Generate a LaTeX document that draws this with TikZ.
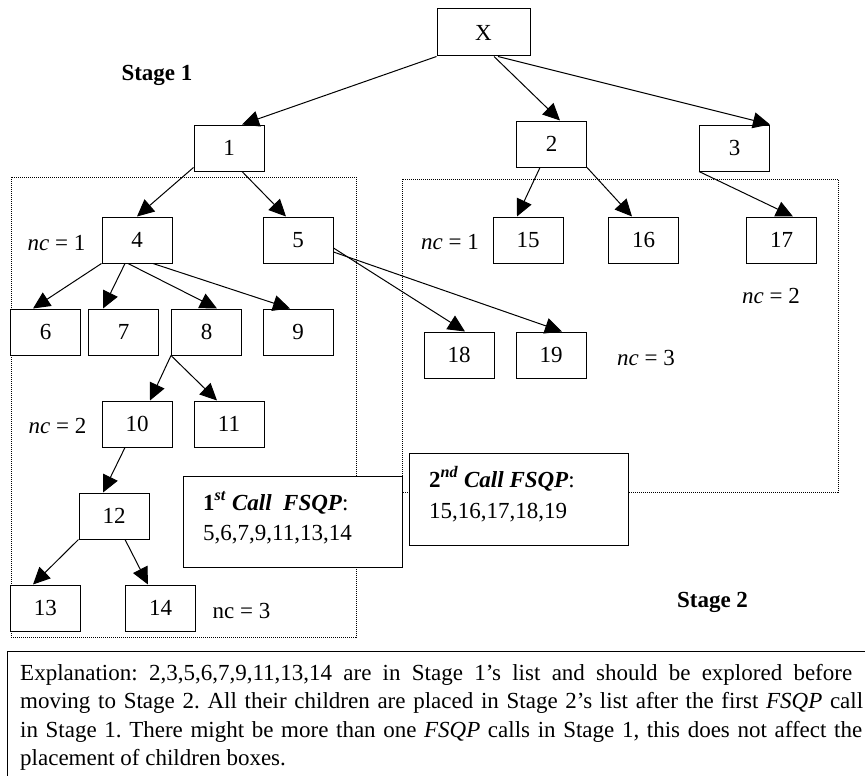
\documentclass[tikz,border=0pt]{standalone}
\usepackage{fontspec}
\setmainfont{Liberation Serif}
\usetikzlibrary{arrows.meta}
\frenchspacing
\begin{document}
\begin{tikzpicture}[x=1pt,y=-1pt,
  every node/.style={font=\fontsize{23pt}{28.3pt}\selectfont},
  nbox/.style={draw, line width=1pt, fill=white, minimum width=70pt, minimum height=46pt, inner sep=0pt},
  conn/.style={line width=1pt, -{Triangle[length=17pt,width=16pt]}},
  dotbox/.style={line width=1pt, dash pattern=on 1pt off 1pt},
  callbox/.style={draw, line width=1pt, fill=white, inner sep=0pt},
  lbl/.style={inner sep=0pt}]
\useasboundingbox (0,0) rectangle (865,776);
\fill[white] (0,0) rectangle (865,776);

% stage regions
\draw[dotbox] (11,177) rectangle (356,637);
\draw[dotbox] (402,179) rectangle (838,492);

% nodes
\node[nbox, minimum width=93pt, minimum height=47pt] (X) at (483.5,32.5) {X};
\node[nbox] (n1) at (229,148) {1};
\node[nbox] (n2) at (551.5,144) {2};
\node[nbox] (n3) at (734.5,148) {3};
\node[nbox] (n4) at (137,240) {4};
\node[nbox] (n5) at (298,240) {5};
\node[nbox] (n15) at (528,240) {15};
\node[nbox] (n16) at (643.5,240) {16};
\node[nbox] (n17) at (781.5,240) {17};
\node[nbox] (n6) at (45.5,332) {6};
\node[nbox] (n7) at (123.5,332) {7};
\node[nbox] (n8) at (206.5,332) {8};
\node[nbox] (n9) at (298,332) {9};
\node[nbox] (n18) at (459,355) {18};
\node[nbox] (n19) at (551,355) {19};
\node[nbox] (n10) at (137,424) {10};
\node[nbox] (n11) at (229,424) {11};
\node[nbox] (n12) at (114,516) {12};
\node[nbox] (n13) at (45.5,608) {13};
\node[nbox] (n14) at (160.5,608) {14};

% connectors
\draw[conn] (X.south west) -- ([xshift=13pt]n1.north);
\draw[conn] ([xshift=10.5pt]X.south) -- ([xshift=8.5pt]n2.north);
\draw[conn] ([xshift=14.5pt]X.south) -- (n3.north east);
\draw[conn] ([yshift=4pt]n1.south west) -- (n4.north);
\draw[conn] ([xshift=13pt]n1.south) -- ([xshift=-12pt]n5.north);
\draw[conn] (n4.south west) -- ([xshift=-12.5pt]n6.north);
\draw[conn] ([xshift=-12pt]n4.south) -- ([xshift=-20.5pt]n7.north);
\draw[conn] ([xshift=-9pt]n4.south) -- ([xshift=10.5pt]n8.north);
\draw[conn] ([xshift=16pt]n4.south) -- ([xshift=-8pt]n9.north);
\draw[conn] ([yshift=-8pt]n5.east) -- ([xshift=6pt]n18.north);
\draw[conn] ([yshift=-12pt]n5.east) -- ([xshift=11pt]n19.north);
\draw[conn] (n8.south west) -- ([xshift=13pt]n10.north);
\draw[conn] (n8.south west) -- ([xshift=-12pt]n11.north);
\draw[conn] ([xshift=-12pt]n10.south) -- ([xshift=-11pt]n12.north);
\draw[conn] (n12.south west) -- ([xshift=-12.5pt]n13.north);
\draw[conn] ([xshift=11pt]n12.south) -- ([xshift=-12.5pt]n14.north);
\draw[conn] ([xshift=-11.5pt]n2.south) -- ([xshift=-11pt]n15.north);
\draw[conn] (n2.south east) -- ([xshift=-11.5pt]n16.north);
\draw[conn] (n3.south west) -- ([xshift=11.5pt]n17.north);

% labels
\node[lbl, anchor=base] (s1) at (157,80.5) {\textbf{Stage 1}};
\node[lbl, anchor=base] (s2) at (712.5,607.5) {\textbf{Stage 2}};
\node[lbl, anchor=base] (nca) at (56.5,250) {\textit{nc} = 1};
\node[lbl, anchor=base] (ncb) at (450,249) {\textit{nc} = 1};
\node[lbl, anchor=base] (ncc) at (771,303) {\textit{nc} = 2};
\node[lbl, anchor=base] (ncd) at (646,365) {\textit{nc} = 3};
\node[lbl, anchor=base] (nce) at (57.5,433) {\textit{nc} = 2};
\node[lbl, anchor=base] (ncf) at (241.5,618) {nc = 3};

% FSQP call boxes
\node[callbox, minimum width=219pt, minimum height=91pt] (c1) at (292.5,521.5) {};
\node[lbl, anchor=base west] (c1a) at (203,510) {\textbf{1\textsuperscript{\textit{st}} \textit{Call\ \ FSQP}}:};
\node[lbl, anchor=base west] (c1b) at (203,540) {5,6,7,9,11,13,14};
\node[callbox, minimum width=219pt, minimum height=92pt] (c2) at (518.5,499) {};
\node[lbl, anchor=base west] (c2a) at (429,487) {\textbf{2\textsuperscript{\textit{nd}} \textit{Call FSQP}}:};
\node[lbl, anchor=base west] (c2b) at (429,518) {15,16,17,18,19};

% explanation
\node[draw, line width=1pt, anchor=north west, minimum width=880pt, minimum height=150pt, inner sep=0pt] (expl) at (7,651) {};
\node[lbl, anchor=base west] (e1) at (20,680) {\makebox[832pt][s]{Explanation: 2,3,5,6,7,9,11,13,14 are in Stage 1’s list and should be explored before}};
\node[lbl, anchor=base west] (e2) at (20,708) {\makebox[843pt][s]{moving to Stage 2. All their children are placed in Stage 2’s list after the first \textit{FSQP} call}};
\node[lbl, anchor=base west] (e3) at (20,737) {\makebox[842pt][s]{in Stage 1. There might be more than one \textit{FSQP} calls in Stage 1, this does not affect the}};
\node[lbl, anchor=base west] (e4) at (20,765) {placement of children boxes.};
\end{tikzpicture}
\end{document}
